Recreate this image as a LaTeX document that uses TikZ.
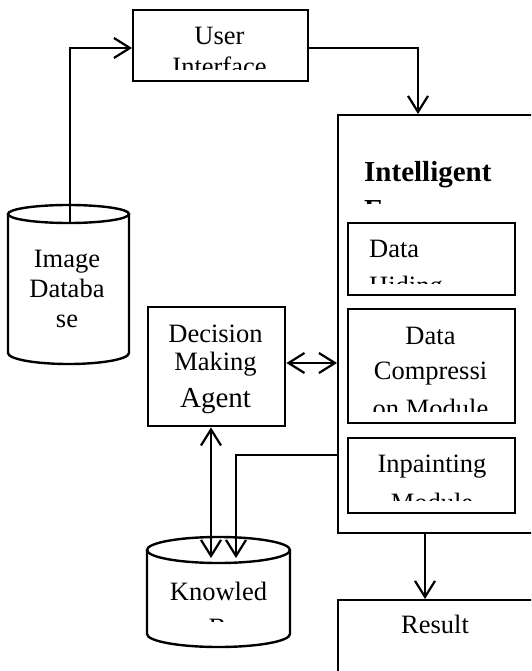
\documentclass[tikz,border=0pt]{standalone}
\usepackage{fontspec}
\setmainfont{Liberation Serif}
\usetikzlibrary{arrows.meta}

\tikzset{
  box/.style={draw, line width=2.4pt, inner sep=0pt, anchor=north west},
  conn/.style={line width=2.2pt},
  tip/.style={-{Straight Barb[length=16pt,width=20pt]}},
  bothtips/.style={{Straight Barb[length=16pt,width=20pt]}-{Straight Barb[length=16pt,width=20pt]}},
  txt/.style={font=\fontsize{26.5}{30}\selectfont, inner sep=0pt, anchor=base},
  ltxt/.style={txt, anchor=base west},
  bigtxt/.style={txt, font=\fontsize{29}{34}\selectfont},
  headtxt/.style={ltxt, font=\fontsize{29}{34}\selectfont\bfseries},
  cyl/.style={line width=2.4pt},
}

\begin{document}
\begin{tikzpicture}[x=1pt, y=-1pt]
\useasboundingbox (0,0) rectangle (531,671);
\clip (0,0) rectangle (531,671);

% ---------- boxes ----------
\node[box, minimum width=175pt, minimum height=71pt]  (ui)  at (132,9)   {};
\node[box, minimum width=197pt, minimum height=418pt] (ie)  at (337,114) {};
\node[box, minimum width=167pt, minimum height=72pt]  (dh)  at (347,222) {};
\node[box, minimum width=167pt, minimum height=114pt] (dc)  at (347,308) {};
\node[box, minimum width=167pt, minimum height=75pt]  (ip)  at (347,437) {};
\node[box, minimum width=137pt, minimum height=119pt] (dm)  at (147,306) {};
\node[box, minimum width=196pt, minimum height=90pt]  (res) at (337,599) {};

% ---------- cylinders ----------
% image database
\draw[cyl] (68.5,214) ellipse [x radius=60.5pt, y radius=9pt];
\draw[cyl] (8,214) -- (8,353)
  arc[start angle=180, end angle=360, x radius=60.5pt, y radius=11pt] -- (129,214);
% knowledge base
\draw[cyl] (218.5,550) ellipse [x radius=71.5pt, y radius=13pt];
\draw[cyl] (147,550) -- (147,634)
  arc[start angle=180, end angle=360, x radius=71.5pt, y radius=13pt] -- (290,550);

\coordinate (idbtop) at (70,223);
\coordinate (kbin1)  at (211,558);
\coordinate (kbin2)  at (236,558);

% ---------- texts ----------
\begin{scope}
  \clip (132,9) rectangle (307,70);
  \node[txt] (uit1) at (219.5,45) {User};
  \node[txt] (uit2) at (219.5,76) {Interface};
\end{scope}

\begin{scope}
  \clip (337,114) rectangle (534,203);
  \node[headtxt] (iet1) at (364,181) {Intelligent};
  \node[headtxt] (iet2) at (364,219) {E};
\end{scope}

\begin{scope}
  \clip (347,222) rectangle (514,283);
  \node[ltxt] (dht1) at (369,257) {Data};
  \node[ltxt] (dht2) at (369,294) {Hiding};
\end{scope}

\begin{scope}
  \clip (347,308) rectangle (514,411);
  \node[txt] (dct1) at (430.5,344) {Data};
  \node[txt] (dct2) at (430.5,379) {Compressi};
  \node[txt] (dct3) at (430.5,417) {on Module};
\end{scope}

\begin{scope}
  \clip (347,437) rectangle (514,500);
  \node[txt] (ipt1) at (432,472) {Inpainting};
  \node[txt] (ipt2) at (432,511) {Module};
\end{scope}

\node[txt]    (dmt1) at (215.5,342) {Decision};
\node[txt]    (dmt2) at (215.5,370) {Making};
\node[bigtxt] (dmt3) at (215.5,407) {Agent};

\node[txt] (idbt1) at (67,267) {Image};
\node[txt] (idbt2) at (67,297) {Databa};
\node[txt] (idbt3) at (67,327) {se};

\begin{scope}
  \clip (147,537) rectangle (290,621);
  \node[txt] (kbt1) at (218.5,600) {Knowled};
  \node[txt] (kbt2) at (218.5,636) {ge Base};
\end{scope}

\node[txt] (rest) at (435,633) {Result};

% ---------- connectors ----------
\draw[conn, tip] (idbtop) |- (ui.west |- 0,48);
\draw[conn, tip] (ui.east |- 0,48) -| (ie.north -| 418,0);
\draw[conn, bothtips] (dm.east |- 0,363) -- (ie.west |- 0,363);
\draw[conn, bothtips] (dm.south -| 211,0) -- (kbin1);
\draw[conn, tip] (ie.west |- 0,455) -| (kbin2);
\draw[conn, tip] (ie.south -| 425,0) -- (res.north -| 425,0);
\end{tikzpicture}
\end{document}
